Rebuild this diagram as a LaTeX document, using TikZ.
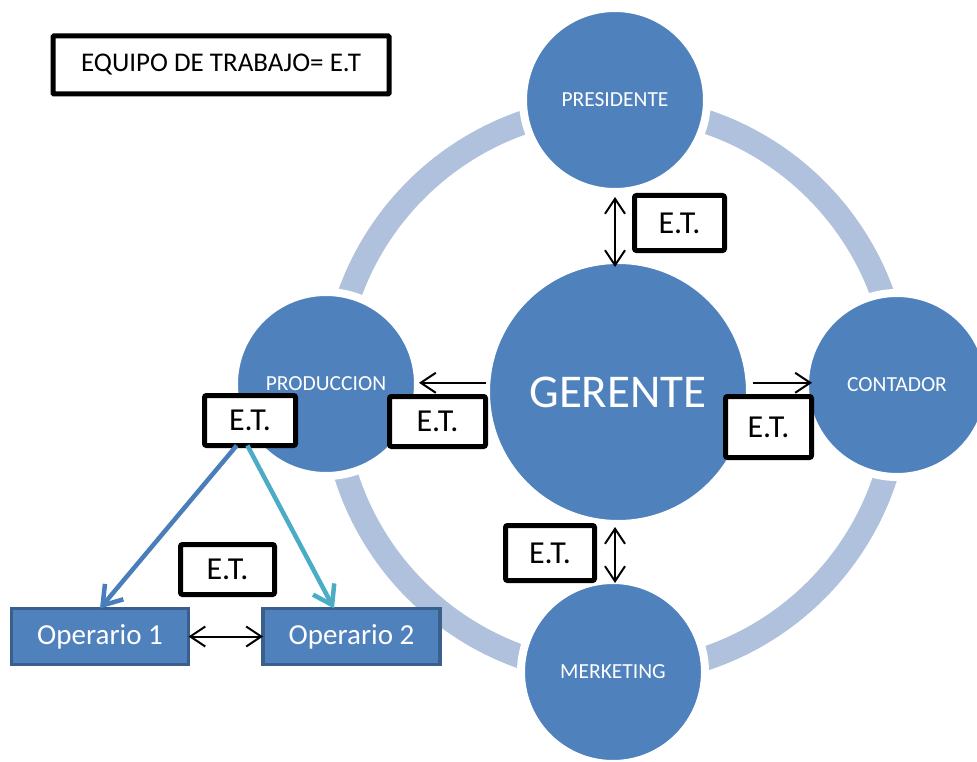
\documentclass[tikz,border=0pt]{standalone}
\usepackage{fontspec}
\setmainfont{Carlito}
\usetikzlibrary{arrows.meta}

\definecolor{nodeblue}{HTML}{4F81BD}
\definecolor{ringblue}{HTML}{B0C1DD}
\definecolor{boxedge}{HTML}{3A5F8C}
\definecolor{linkblue}{HTML}{4A7EBB}
\definecolor{linkcyan}{HTML}{4BACC6}

\tikzset{
  role/.style={circle, fill=nodeblue, draw=white, line width=8pt,
    minimum size=184pt, inner sep=0pt, outer sep=0pt, text=white,
    font=\fontsize{21.5}{25}\selectfont},
  etbox/.style={draw=black, fill=white, line width=5pt, rounded corners=2pt,
    inner sep=0pt, outer sep=0pt, font=\fontsize{32}{36}\selectfont},
  worker/.style={rectangle, fill=nodeblue, draw=boxedge, line width=3.5pt,
    minimum width=177pt, minimum height=56pt, inner sep=0pt, outer sep=0pt,
    text=white, font=\fontsize{29}{33}\selectfont},
  link/.style={line width=2pt, black},
  tip/.tip={Straight Barb[length=15pt,width=20pt]},
  bigtip/.tip={Straight Barb[length=18pt,width=24pt]},
}

\begin{document}
\begin{tikzpicture}[x=1pt,y=-1pt]
\useasboundingbox (0,0) rectangle (977,762);
\clip (0,0) rectangle (977,762);

% ring behind the team members
\draw[ringblue, line width=24pt] (616,390) circle (283);

% members
\node[role] (pres) at (615,100) {PRESIDENTE};
\node[role] (prod) at (326,384) {PRODUCCION};
\node[role] (cont) at (897,385) {CONTADOR};
\node[role] (merk) at (613,672) {MERKETING};
\node[role, minimum size=264pt, font=\fontsize{47}{51}\selectfont] (ger) at (618,392) {GERENTE};

% links from the manager
\draw[link, {tip}-{tip}, shorten <=5pt, shorten >=-7pt]
  (pres.south) -- (pres.south |- ger.north);
\draw[link, {tip}-{tip}, shorten <=3pt, shorten >=-3pt]
  (pres.south |- ger.south) -- (pres.south |- merk.north);
\draw[link, -{tip}, shorten <=3pt, shorten >=-7pt]
  (ger.4) -- (ger.4 -| cont.west);
\draw[link, -{tip}, shorten >=1pt]
  (ger.176) -- (ger.176 -| prod.east);

% team labels
\node[etbox, minimum width=90pt, minimum height=55pt] (et1) at (679.5,223) {E.T.};
\node[etbox, minimum width=86pt, minimum height=61pt] (et2) at (768.5,427) {E.T.};
\node[etbox, minimum width=89pt, minimum height=55pt] (et3) at (550,553) {E.T.};
\node[etbox, minimum width=96pt, minimum height=50pt] (et4) at (437.5,421.5) {E.T.};
\node[etbox, minimum width=91pt, minimum height=50pt] (et5) at (250,420.5) {E.T.};
\node[etbox, minimum width=94pt, minimum height=50pt] (et6) at (227.5,569.5) {E.T.};

% legend
\node[etbox, minimum width=336pt, minimum height=58pt, rounded corners=1pt,
  font=\fontsize{27}{31}\selectfont] (legend) at (221,65) {EQUIPO DE TRABAJO= E.T};

% operators
\node[worker] (op1) at (100,636.5) {Operario 1};
\node[worker] (op2) at (351.5,636.5) {Operario 2};

\draw[linkblue, line width=4.5pt, -{bigtip}] (et5.-118) -- (op1.north);
\draw[linkcyan, line width=4.5pt, -{bigtip}] (et5.-96) -- (op2.122);
\draw[link, {tip}-{tip}] (op1.east) -- (op2.west);
\end{tikzpicture}
\end{document}
